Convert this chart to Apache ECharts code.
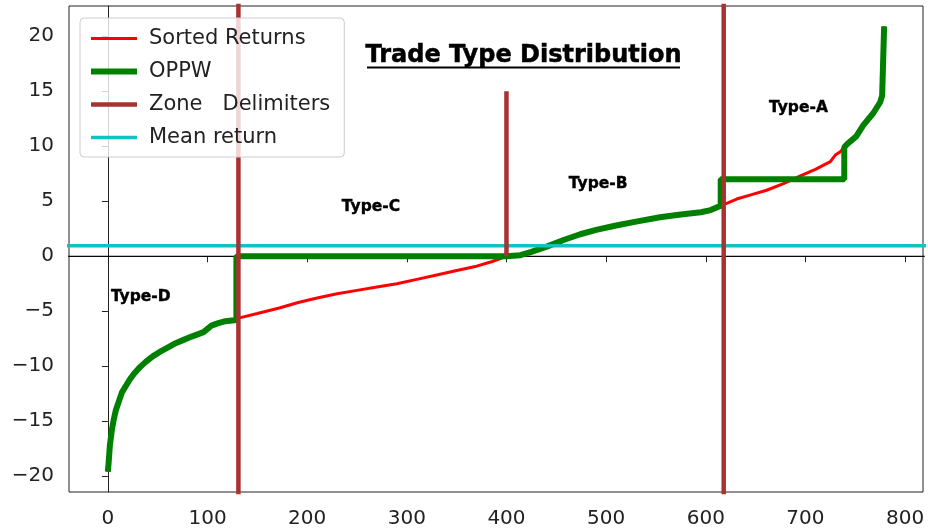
<!DOCTYPE html>
<html>
<head>
<meta charset="utf-8">
<script src="https://cdn.jsdelivr.net/npm/echarts@6/dist/echarts.min.js"></script>
<style>
  html, body { margin: 0; padding: 0; background: #fff; }
  #chart { width: 928px; height: 531px; }
</style>
</head>
<body>
<div id="chart"></div>
<script>
// Sorted trade returns, [trade index, return]
const returns = [
  [0, -19.6], [1, -18.5], [2, -17.2], [4, -15.8], [6, -14.8], [8, -14.0],
  [11, -13.2], [14, -12.4], [18, -11.8], [22, -11.2], [26, -10.7], [32, -10.1],
  [38, -9.6], [45, -9.1], [52, -8.7], [60, -8.3], [68, -7.9], [76, -7.6],
  [84, -7.3], [90, -7.1], [96, -6.9], [100, -6.6], [104, -6.3], [110, -6.1],
  [118, -5.9], [129, -5.8],
  [132, -5.6], [150, -5.2], [172, -4.7], [191, -4.2], [210, -3.8], [230, -3.4],
  [250, -3.1], [270, -2.8], [290, -2.5], [310, -2.1], [330, -1.7], [350, -1.3],
  [370, -0.9], [385, -0.5], [400, 0.0],
  [414, 0.1], [425, 0.4], [441, 0.9], [458, 1.5], [474, 2.0], [490, 2.4],
  [510, 2.8], [530, 3.15], [554, 3.55], [575, 3.8], [595, 4.0], [605, 4.2],
  [615, 4.6],
  [618, 4.7], [631, 5.2], [646, 5.6], [661, 6.0], [678, 6.6], [695, 7.3],
  [710, 7.9], [725, 8.6], [730, 9.2], [735, 9.5], [739, 9.9],
  [742, 10.2], [751, 10.9], [758, 11.9], [768, 13.0], [775, 14.0], [777, 14.6],
  [779, 20.9]
];

// OPPW: returns kept in zones D, B and the tail of A; flat levels elsewhere
const oppwFlatC = [[129, 0.0], [400, 0.0]];
const oppwFlatA = [[615, 7.0], [739, 7.0]];
const oppw = [
  ...returns.filter(p => p[0] <= 129),
  ...oppwFlatC,
  ...returns.filter(p => p[0] > 400 && p[0] <= 615),
  ...oppwFlatA,
  ...returns.filter(p => p[0] >= 739)
];

// Zone delimiters: [x, yFrom, yTo]
const delimiters = [[131, -30, 30], [400, 0, 15], [618, -30, 30]];
const meanReturn = 0.95;

// Zone labels: [x, y, text]
const zoneLabels = [
  [33, -3.7, 'Type-D'],
  [264, 4.5, 'Type-C'],
  [492, 6.6, 'Type-B'],
  [693, 13.5, 'Type-A']
];

const xTicks = [0, 100, 200, 300, 400, 500, 600, 700, 800];
const yTicks = [-20, -15, -10, -5, 0, 5, 10, 15, 20];

const FONT = 'DejaVu Sans';
const INK = '#222';

const COLORS = {
  returns: '#ff0000',
  oppw: '#008000',
  delim: '#a83232',
  mean: '#12c2c2'
};
const WIDTHS = { returns: 3, oppw: 6, delim: 4.5, mean: 3.5 };

const delimiterData = [];
delimiters.forEach((d, i) => {
  if (i > 0) delimiterData.push([d[0], '-']);
  delimiterData.push([d[0], d[1]], [d[0], d[2]]);
});

const chart = echarts.init(document.getElementById('chart'), null, { renderer: 'canvas' });

const fmt = v => String(v).replace('-', '\u2212');

const legendItem = (name, key) => ({
  name,
  itemStyle: { opacity: 0 },
  lineStyle: { color: COLORS[key], width: WIDTHS[key], opacity: 1 }
});

chart.setOption({
  animation: false,
  backgroundColor: '#fff',
  grid: {
    left: 69, right: 5, top: 6, bottom: 39,
    show: true, borderColor: INK, borderWidth: 1,
    outerBoundsMode: 'none'
  },
  xAxis: {
    type: 'value',
    min: -39, max: 818,
    axisLine: { show: true, lineStyle: { color: INK, width: 1 } },
    axisTick: { show: true, length: 6, lineStyle: { color: INK }, customValues: xTicks },
    axisLabel: { customValues: xTicks, fontFamily: FONT, fontSize: 20, color: INK, margin: 17 },
    splitLine: { show: false }
  },
  yAxis: {
    type: 'value',
    min: -21.43, max: 22.75,
    axisLine: { show: true, lineStyle: { color: INK, width: 1 } },
    axisTick: { show: true, length: 6, lineStyle: { color: INK }, customValues: yTicks },
    axisLabel: { customValues: yTicks, formatter: fmt, fontFamily: FONT, fontSize: 20, color: INK, margin: 15 },
    splitLine: { show: false }
  },
  legend: {
    data: [
      legendItem('Sorted Returns', 'returns'),
      legendItem('OPPW', 'oppw'),
      legendItem('Zone   Delimiters', 'delim'),
      legendItem('Mean return', 'mean')
    ],
    orient: 'vertical',
    left: 80, top: 18,
    padding: [10, 14, 9, 8],
    itemWidth: 46, itemHeight: 21, itemGap: 12,
    itemStyle: { opacity: 0 },
    backgroundColor: 'rgba(255,255,255,0.8)',
    borderColor: '#cccccc', borderWidth: 1, borderRadius: 4,
    textStyle: { fontFamily: FONT, fontSize: 21, color: INK, padding: [0, 0, 0, 7] },
    selectedMode: false
  },
  graphic: [
    {
      type: 'text', x: 523.5, y: 56, z: 100,
      style: {
        text: 'Trade Type Distribution',
        font: 'bold 24px "DejaVu Sans"',
        fill: '#000', stroke: '#000', lineWidth: 0.5,
        align: 'center', verticalAlign: 'middle'
      }
    },
    {
      type: 'line', z: 100,
      shape: { x1: 367, y1: 67.5, x2: 680, y2: 67.5 },
      style: { stroke: '#000', lineWidth: 2 }
    }
  ],
  series: [
    {
      name: 'zero', type: 'line', data: [[-100, 0], [900, 0]],
      symbol: 'none', silent: true,
      lineStyle: { color: '#000', width: 1.2 }
    },
    {
      name: 'Sorted Returns', type: 'line', data: returns,
      symbol: 'none', itemStyle: { color: COLORS.returns },
      lineStyle: { color: COLORS.returns, width: WIDTHS.returns }
    },
    {
      name: 'OPPW', type: 'line', data: oppw,
      symbol: 'none', itemStyle: { color: COLORS.oppw },
      lineStyle: { color: COLORS.oppw, width: WIDTHS.oppw }
    },
    {
      name: 'Mean return', type: 'line', data: [[-100, meanReturn], [900, meanReturn]],
      symbol: 'none', itemStyle: { color: COLORS.mean },
      lineStyle: { color: COLORS.mean, width: WIDTHS.mean }
    },
    {
      name: 'Zone   Delimiters', type: 'line', data: delimiterData,
      symbol: 'none', connectNulls: false, itemStyle: { color: COLORS.delim },
      lineStyle: { color: COLORS.delim, width: WIDTHS.delim }
    },
    {
      name: 'zones', type: 'scatter', data: zoneLabels,
      symbolSize: 0, silent: true,
      itemStyle: { opacity: 1 },
      label: {
        show: true, position: 'inside',
        formatter: p => p.data[2],
        fontFamily: FONT, fontWeight: 'bold', fontSize: 15.5, color: '#000',
        textBorderColor: '#000', textBorderWidth: 0.4, opacity: 1
      }
    }
  ]
});
</script>
</body>
</html>
